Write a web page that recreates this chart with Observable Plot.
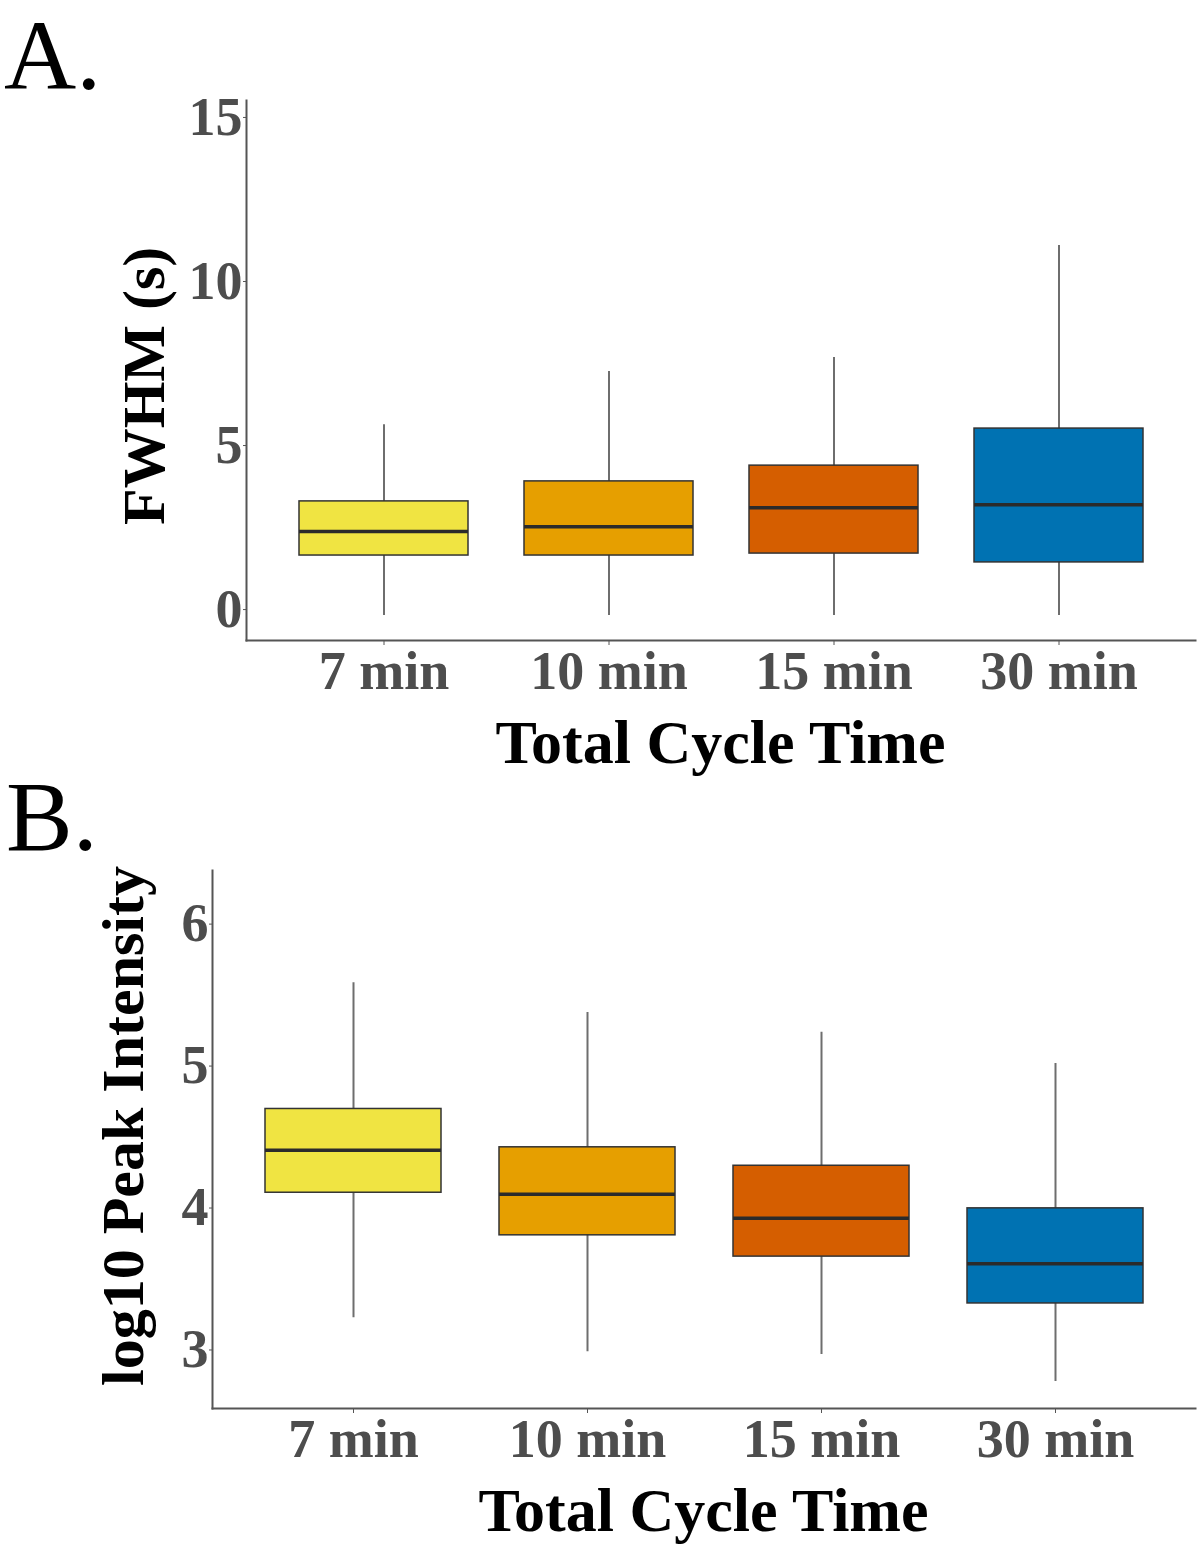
<!DOCTYPE html>
<html>
<head>
<meta charset="utf-8">
<script src="https://cdn.jsdelivr.net/npm/d3@7"></script>
<script src="https://cdn.jsdelivr.net/npm/@observablehq/plot@0.6"></script>
<style>
  html, body { margin: 0; padding: 0; background: #fff; }
  #wrap { position: relative; width: 1200px; height: 1547px; font-family: "Liberation Serif", "Times New Roman", serif; }
  .panel { position: absolute; left: 0; }
  .letter { position: absolute; font-size: 100px; line-height: 1.11; color: #000; }
  .xtitle { position: absolute; font-size: 62px; font-weight: bold; color: #000; white-space: nowrap; transform: translateX(-50%); line-height: 1; }
  .ytitle { position: absolute; font-size: 60px; font-weight: bold; color: #000; white-space: nowrap; line-height: 1; transform-origin: 0 0; }
</style>
</head>
<body>
<div id="wrap"></div>
<script>
// ---- data ----
const categories = ["7 min", "10 min", "15 min", "30 min"];
const colors = ["#F0E442", "#E69F00", "#D55E00", "#0072B2"];

// Panel A: FWHM (s)
const fwhmMin    = [0.0, 0.0, 0.0, 0.0];
const fwhmQ1     = [1.83, 1.83, 1.89, 1.62];
const fwhmMedian = [2.56, 2.71, 3.29, 3.38];
const fwhmQ3     = [3.48, 4.09, 4.57, 5.70];
const fwhmMax    = [5.82, 7.44, 7.87, 11.28];
const fwhmTicks  = [0, 5, 10, 15];

// Panel B: log10 Peak Intensity
const intMin    = [3.27, 3.03, 3.01, 2.82];
const intQ1     = [4.15, 3.85, 3.70, 3.37];
const intMedian = [4.45, 4.14, 3.97, 3.65];
const intQ3     = [4.74, 4.47, 4.34, 4.04];
const intMax    = [5.63, 5.42, 5.28, 5.06];
const intTicks  = [3, 4, 5, 6];

function table(mins, q1s, meds, q3s, maxs) {
  return categories.map((c, i) => ({cat: c, lo: mins[i], q1: q1s[i], med: meds[i], q3: q3s[i], hi: maxs[i]}));
}

function panel({data, yDomain, ticks, height, marginTop, marginBottom, marginLeft}) {
  return Plot.plot({
    width: 1200,
    height,
    marginTop,
    marginBottom,
    marginLeft,
    marginRight: 5,
    style: {fontFamily: "'Liberation Serif', 'Times New Roman', serif", background: "#fff"},
    x: {type: "band", domain: categories, paddingInner: 0.25, paddingOuter: 0.225, label: null},
    y: {domain: yDomain, label: null},
    color: {domain: categories, range: colors},
    marks: [
      Plot.ruleX(data, {x: "cat", y1: "lo", y2: "hi", stroke: "#6e6e6e", strokeWidth: 2}),
      Plot.barY(data, {x: "cat", y1: "q1", y2: "q3", fill: "cat", stroke: "#333", strokeWidth: 1.5}),
      Plot.tickY(data, {x: "cat", y: "med", stroke: "#2b2b2b", strokeWidth: 3.5}),
      Plot.frame({anchor: "left", stroke: "#555", strokeWidth: 2}),
      Plot.frame({anchor: "bottom", stroke: "#555", strokeWidth: 2}),
      Plot.axisY({ticks, tickSize: 3, tickPadding: 1, tickFormat: d => String(d), fontSize: 54, fontWeight: "bold", fill: "#4d4d4d", stroke: "#555", dy: -6, label: null}),
      Plot.axisX({tickSize: 5, tickPadding: 5, fontSize: 54, fontWeight: "bold", fill: "#4d4d4d", stroke: "#555", label: null})
    ]
  });
}

const wrap = document.getElementById("wrap");

// Panel A
const A = panel({
  data: table(fwhmMin, fwhmQ1, fwhmMedian, fwhmQ3, fwhmMax),
  yDomain: [-0.76, 15.7], ticks: fwhmTicks,
  height: 700, marginTop: 100, marginBottom: 60, marginLeft: 246
});
A.classList.add("panel");
A.style.top = "0px";
wrap.appendChild(A);

// Panel B
const B = panel({
  data: table(intMin, intQ1, intMedian, intQ3, intMax),
  yDomain: [2.63, 6.42], ticks: intTicks,
  height: 688, marginTop: 90, marginBottom: 60, marginLeft: 212
});
B.classList.add("panel");
B.style.top = "780px";
wrap.appendChild(B);

function addDiv(cls, text, css) {
  const d = document.createElement("div");
  d.className = cls;
  d.textContent = text;
  Object.assign(d.style, css);
  wrap.appendChild(d);
  return d;
}

// Panel letters
addDiv("letter", "A.", {left: "4px", top: "0px"});
addDiv("letter", "B.", {left: "6px", top: "761px"});

// X titles (centered on plot area)
addDiv("xtitle", "Total Cycle Time", {left: ((246 + 1195) / 2) + "px", top: "711px"});
addDiv("xtitle", "Total Cycle Time", {left: ((212 + 1195) / 2) + "px", top: "1479px"});

// Y titles, rotated
function yTitle(text, baselineX, centerY) {
  const d = addDiv("ytitle", text, {left: "0px", top: "0px"});
  const w = d.getBoundingClientRect().width;
  const top = centerY + w / 2;
  const left = baselineX - 0.89 * 60;
  d.style.left = left + "px";
  d.style.top = top + "px";
  d.style.transform = "rotate(-90deg)";
}
yTitle("FWHM (s)", 167, 386);
yTitle("log10 Peak Intensity", 146, 1126);
</script>
</body>
</html>
